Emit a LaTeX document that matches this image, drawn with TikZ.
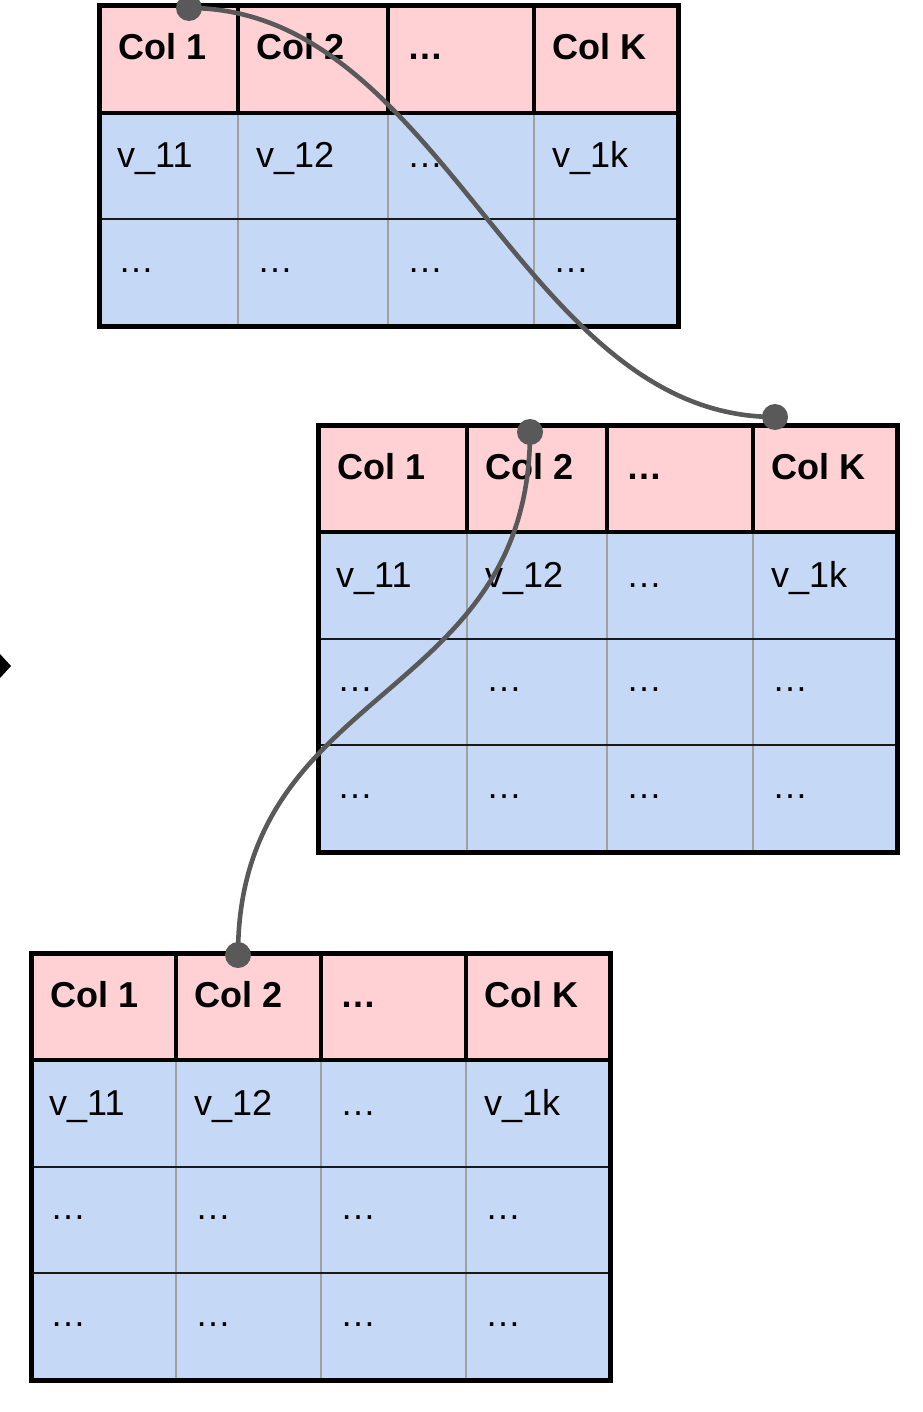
\documentclass[tikz,border=0pt]{standalone}
\usepackage{fontspec}
\setmainfont{Liberation Sans}

\definecolor{headfill}{RGB}{255,209,212}
\definecolor{bodyfill}{RGB}{197,216,245}
\definecolor{linkgrey}{RGB}{89,89,89}
\definecolor{gridgrey}{RGB}{160,160,160}

\tikzset{
  headtext/.style={anchor=base west, inner sep=0pt, font=\fontsize{36}{40}\selectfont\bfseries},
  celltext/.style={anchor=base west, inner sep=0pt, font=\fontsize{36}{40}\selectfont},
  frame/.style={line width=5pt, black},
  headsep/.style={line width=4.5pt, black},
  rowsep/.style={line width=2pt, black!90},
  colsep/.style={line width=1.8pt, gridgrey},
  link/.style={line width=4.6pt, linkgrey},
  pin/.style={circle, fill=linkgrey, inner sep=0pt, minimum size=26pt},
}

% A table: #1 name, #2-#6 column edges, #7 top, #8 header bottom, #9 bottom
\newcommand{\dbtable}[9]{%
  \pgfmathtruncatemacro\nrows{round((#9-#8)/106.6)}%
  \pgfmathsetmacro\rowh{(#9-#8)/\nrows}%
  \pgfmathtruncatemacro\lastsep{\nrows-1}%
  \fill[headfill] (#2,#7) rectangle (#6,#8);
  \fill[bodyfill] (#2,#8) rectangle (#6,#9);
  \foreach \cx in {#3,#4,#5} \draw[colsep] (\cx,#8) -- (\cx,#9);
  \foreach \r in {1,...,\lastsep} \draw[rowsep] (#2,{#8+\r*\rowh}) -- (#6,{#8+\r*\rowh});
  \foreach \cx in {#3,#4,#5} \draw[headsep] (\cx,#7) -- (\cx,#8);
  \draw[headsep] (#2,#8) -- (#6,#8);
  \draw[frame] (#2,#7) rectangle (#6,#9);
  % header labels
  \node[headtext] (#1-h1) at ({#2+19},{#7+54}) {Col 1};
  \node[headtext] (#1-h2) at ({#3+18},{#7+54}) {Col 2};
  \node[headtext] (#1-h3) at ({#4+19},{#7+54}) {…};
  \node[headtext] (#1-h4) at ({#5+18},{#7+54}) {Col K};
  % first data row
  \node[celltext] (#1-a1) at ({#2+18},{#8+55}) {v\_11};
  \node[celltext] (#1-a2) at ({#3+18},{#8+55}) {v\_12};
  \node[celltext] (#1-a3) at ({#4+19},{#8+55}) {…};
  \node[celltext] (#1-a4) at ({#5+18},{#8+55}) {v\_1k};
  % remaining rows
  \foreach \r in {1,...,\lastsep} {
    \foreach \cx [count=\c] in {#2,#3,#4,#5}
      \node[celltext] (#1-r\r-\c) at ({\cx+19},{#8+\r*\rowh+53}) {…};
  }
}

\begin{document}
\begin{tikzpicture}[x=1pt, y=-1pt]
  \useasboundingbox (0,0) rectangle (922,1412);

  % arrow tip at the left margin
  \fill[black] (0,654) -- (11,666) -- (0,678) -- cycle;

  \dbtable{ta}{99}{238}{388}{534}{678}{6}{113}{326}
  \dbtable{tb}{318}{467}{607}{753}{897}{425}{532}{852}
  \dbtable{tc}{31}{176}{321}{466}{610}{953}{1060}{1380}

  % link pins
  \node[pin] (pa) at (189,8) {};
  \node[pin] (pb) at (775,417) {};
  \node[pin] (pc) at (530,432) {};
  \node[pin] (pd) at (238,955) {};

  % links between columns
  \draw[link] (pa.center) .. controls +(254,0) and +(-254,0) .. (pb.center);
  \draw[link] (pc.center) .. controls +(0,272) and +(0,-272) .. (pd.center);
\end{tikzpicture}
\end{document}
